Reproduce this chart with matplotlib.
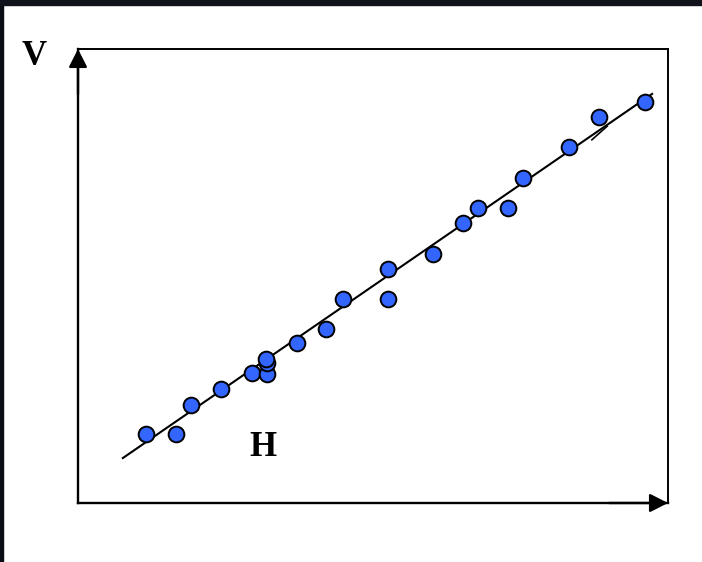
import matplotlib
matplotlib.use("Agg")
import matplotlib.pyplot as plt
from matplotlib.patches import Rectangle

# data (arbitrary units, axes span 0..10)
h_values = [1.15, 1.66, 1.92, 2.42, 2.95, 3.20, 3.20, 3.19, 3.71, 4.20, 4.49,
            5.25, 5.25, 6.02, 6.53, 6.78, 7.29, 7.54, 8.32, 8.83, 9.61]
v_values = [1.52, 1.52, 2.16, 2.51, 2.86, 2.84, 3.08, 3.17, 3.52, 3.83, 4.49,
            5.15, 4.49, 5.49, 6.17, 6.50, 6.50, 7.16, 7.84, 8.50, 8.83]
fit_h = [0.76, 9.73]
fit_v = [0.99, 9.01]
# short stray stroke next to the fit line
stray_h = [8.71, 8.97]
stray_v = [8.00, 8.30]

fig = plt.figure(figsize=(7.02, 5.62), dpi=100)
fig.patch.set_facecolor("white")
# dark frame remnants at left and top edges
fig.patches.append(Rectangle((0, 0), 3 / 702, 1, transform=fig.transFigure,
                             color="#0b0d16", zorder=0))
fig.patches.append(Rectangle((0, 1 - 5 / 562), 1, 5 / 562, transform=fig.transFigure,
                             color="#10131c", zorder=0))

ax = fig.add_axes([78 / 702, 59 / 562, 590 / 702, 454 / 562])
ax.set_xlim(0, 10)
ax.set_ylim(0, 10)
ax.set_xticks([])
ax.set_yticks([])
for side in ["left", "bottom"]:
    ax.spines[side].set_linewidth(1.7)
for side in ["top", "right"]:
    ax.spines[side].set_linewidth(1.4)

arrow_kw = dict(arrowstyle="-|>,head_length=0.55,head_width=0.28",
                color="black", lw=1.7, shrinkA=0, shrinkB=0, mutation_scale=20)
ax.annotate("", xy=(0, 1), xytext=(0, 0.9), xycoords="axes fraction",
            textcoords="axes fraction", arrowprops=arrow_kw, annotation_clip=False)
ax.annotate("", xy=(1, 0), xytext=(0.9, 0), xycoords="axes fraction",
            textcoords="axes fraction", arrowprops=arrow_kw, annotation_clip=False)

ax.plot(fit_h, fit_v, color="black", lw=1.5, zorder=2)
ax.plot(stray_h, stray_v, color="black", lw=1.2, zorder=2)
ax.plot(h_values, v_values, "o", color="#3366ff", markersize=11.3,
        markeredgecolor="black", markeredgewidth=1.4, zorder=3, clip_on=False)

fig.text(34.5 / 702, 1 - 65 / 562, "V", family="Liberation Serif", weight="bold",
         fontsize=25, ha="center", va="baseline")
fig.text(262.5 / 702, 1 - 456 / 562, "H", family="Liberation Serif", weight="bold",
         fontsize=25, ha="center", va="baseline")

fig.savefig("out.png", dpi=100)
